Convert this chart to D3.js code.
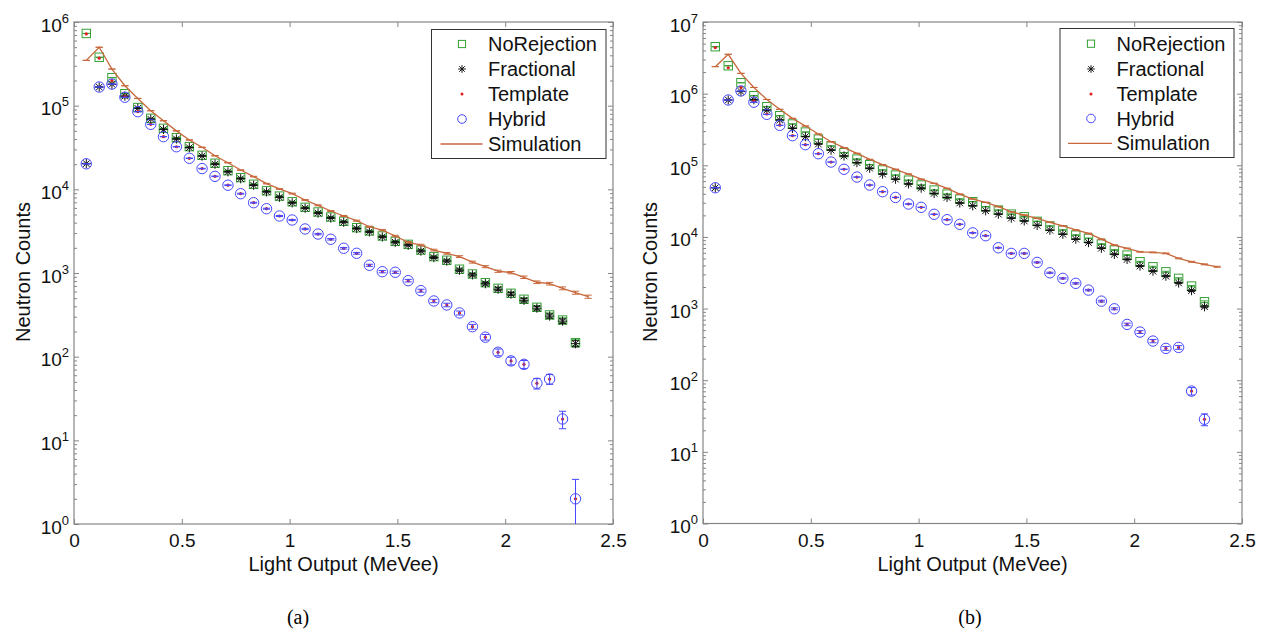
<!DOCTYPE html>
<html>
<head>
<meta charset="utf-8">
<script src="https://cdn.jsdelivr.net/npm/d3@7"></script>
<style>
  html, body { margin: 0; padding: 0; background: #ffffff; }
  svg { display: block; font-family: "Liberation Sans", Arial, Helvetica, sans-serif; }
</style>
</head>
<body>
<svg id="chart" width="1265" height="636"></svg>
<script>
// Light-output bin centres (MeVee); the simulation carries one extra bin at the end
const lightOutput = [0.057, 0.117, 0.176, 0.236, 0.296, 0.356, 0.415, 0.475, 0.535, 0.594,
  0.654, 0.714, 0.773, 0.833, 0.893, 0.953, 1.012, 1.072, 1.132, 1.191,
  1.251, 1.311, 1.370, 1.430, 1.490, 1.550, 1.609, 1.669, 1.729, 1.788,
  1.848, 1.908, 1.967, 2.027, 2.087, 2.147, 2.206, 2.266, 2.326, 2.385];

const xTickValues = [0, 0.5, 1, 1.5, 2, 2.5];
const xTickLabels = ["0", "0.5", "1", "1.5", "2", "2.5"];
const yExponentsA = [0, 1, 2, 3, 4, 5, 6];
const yExponentsB = [0, 1, 2, 3, 4, 5, 6, 7];
const legendLabels = ["NoRejection", "Fractional", "Template", "Hybrid", "Simulation"];
const panelCaptions = ["(a)", "(b)"];
const xAxisTitle = "Light Output (MeVee)";
const yAxisTitle = "Neutron Counts";

// ---- panel (a) neutron counts per bin ----
const noRejectionA = [7.3e5, 3.79e5, 2.16e5, 1.39e5, 9.5e4, 7.06e4, 5.36e4, 4.14e4, 3.24e4, 2.55e4,
  2.05e4, 1.67e4, 1.38e4, 1.15e4, 9600, 8300, 7100, 6100, 5360, 4670,
  4150, 3480, 3180, 2770, 2390, 2200, 1880, 1570, 1420, 1110,
  973, 766, 656, 572, 485, 389, 315, 274, 147];
const fractionalA = [2.03e4, 1.67e5, 1.8e5, 1.3e5, 9.3e4, 6.9e4, 5.2e4, 4.0e4, 3.15e4, 2.5e4,
  2.0e4, 1.62e4, 1.34e4, 1.12e4, 9350, 8050, 6900, 5950, 5200, 4550,
  4050, 3400, 3100, 2700, 2330, 2150, 1830, 1530, 1390, 1080,
  950, 745, 640, 560, 472, 380, 306, 266, 143];
const templateA = [7.2e5, 3.7e5, 2.0e5, 1.28e5, 8.5e4, 5.98e4, 4.26e4, 3.23e4, 2.35e4, 1.77e4,
  1.43e4, 1.12e4, 8870, 6920, 5870, 4800, 4300, 3360, 2920, 2530,
  1975, 1720, 1237, 1037, 1021, 810, 615, 463, 415, 333,
  228, 171, 113, 89, 81, 48, 54, 18, 2];
const hybridA = [2.02e4, 1.67e5, 1.81e5, 1.26e5, 8.47e4, 5.98e4, 4.26e4, 3.23e4, 2.35e4, 1.77e4,
  1.43e4, 1.12e4, 8870, 6920, 5870, 4800, 4300, 3360, 2920, 2530,
  1975, 1720, 1237, 1037, 1021, 810, 615, 463, 415, 333,
  228, 171, 113, 89, 81, 48, 54, 18, 2];
const simulationA = [3.48e5, 4.99e5, 2.74e5, 1.73e5, 1.22e5, 8.7e4, 6.6e4, 5.0e4, 3.89e4, 3.18e4,
  2.52e4, 2.08e4, 1.70e4, 1.42e4, 1.17e4, 1.01e4, 8900, 7460, 6440, 5510,
  4800, 4220, 3570, 3260, 2770, 2330, 2160, 1880, 1720, 1570,
  1350, 1190, 1050, 1010, 889, 775, 745, 656, 582, 521];

// ---- panel (b) neutron counts per bin ----
const noRejectionB = [4.52e6, 2.45e6, 1.42e6, 9.36e5, 6.57e5, 4.92e5, 3.77e5, 2.91e5, 2.32e5, 1.86e5,
  1.50e5, 1.22e5, 1.02e5, 8.6e4, 7.3e4, 6.2e4, 5.3e4, 4.51e4, 3.96e4, 3.38e4,
  3.10e4, 2.64e4, 2.37e4, 2.08e4, 1.91e4, 1.65e4, 1.42e4, 1.25e4, 1.06e4, 9550,
  7950, 6560, 5580, 4500, 3830, 3260, 2640, 2060, 1245];
const fractionalB = [4.86e4, 8.15e5, 1.07e6, 8.2e5, 5.9e5, 4.28e5, 3.28e5, 2.51e5, 1.98e5, 1.63e5,
  1.35e5, 1.09e5, 9.1e4, 7.55e4, 6.4e4, 5.5e4, 4.8e4, 4.05e4, 3.56e4, 2.98e4,
  2.72e4, 2.32e4, 2.08e4, 1.83e4, 1.67e4, 1.45e4, 1.24e4, 1.09e4, 9300, 8350,
  6950, 5720, 4850, 3920, 3330, 2830, 2280, 1780, 1060];
const templateB = [4.4e6, 2.3e6, 1.22e6, 7.9e5, 5.2e5, 3.63e5, 2.6e5, 1.94e5, 1.45e5, 1.11e5,
  8.8e4, 6.85e4, 5.3e4, 4.28e4, 3.56e4, 2.88e4, 2.59e4, 2.07e4, 1.74e4, 1.50e4,
  1.14e4, 1.04e4, 7060, 5890, 5890, 4410, 3160, 2640, 2250, 1810,
  1270, 993, 601, 470, 352, 278, 287, 70.5, 28.5];
const hybridB = [4.86e4, 8.15e5, 1.09e6, 7.6e5, 5.14e5, 3.61e5, 2.59e5, 1.94e5, 1.45e5, 1.11e5,
  8.8e4, 6.85e4, 5.3e4, 4.28e4, 3.56e4, 2.88e4, 2.59e4, 2.07e4, 1.74e4, 1.50e4,
  1.14e4, 1.04e4, 7060, 5890, 5890, 4410, 3160, 2640, 2250, 1810,
  1270, 993, 601, 470, 352, 278, 287, 70.5, 28.5];
const simulationB = [2.38e6, 3.54e6, 1.92e6, 1.22e6, 8.3e5, 6.04e5, 4.52e5, 3.53e5, 2.73e5, 2.13e5,
  1.76e5, 1.47e5, 1.21e5, 1.02e5, 8.8e4, 7.55e4, 6.4e4, 5.6e4, 4.77e4, 3.96e4,
  3.38e4, 3.04e4, 2.64e4, 2.24e4, 2.02e4, 1.82e4, 1.60e4, 1.43e4, 1.25e4, 1.12e4,
  9330, 7700, 6920, 6200, 6080, 5890, 5020, 4500, 4140, 3830];

// ---- styling ----
const COLORS = {
  noRejection: "#34a034",
  fractional: "#111111",
  template: "#e01e1e",
  hybrid: "#4646ff",
  simulation: "#c8683c",
  axis: "#858585",
  text: "#111111"
};
const TICK_FONT = 19;
const LABEL_FONT = 20;
const CAP = 3.6;

const svg = d3.select("#chart");

const starPath = s => `M${-s},0H${s}M0,${-s}V${s}M${-s * 0.72},${-s * 0.72}L${s * 0.72},${s * 0.72}M${-s * 0.72},${s * 0.72}L${s * 0.72},${-s * 0.72}`;

function drawMarker(sel, kind, size) {
  if (kind === "square") {
    sel.append("rect").attr("x", -size).attr("y", -size).attr("width", 2 * size).attr("height", 2 * size)
      .attr("fill", "none").attr("stroke", COLORS.noRejection).attr("stroke-width", 1);
  } else if (kind === "star") {
    sel.append("path").attr("d", starPath(size)).attr("fill", "none")
      .attr("stroke", COLORS.fractional).attr("stroke-width", 1);
  } else if (kind === "dot") {
    sel.append("circle").attr("r", size).attr("fill", COLORS.template);
  } else if (kind === "circle") {
    sel.append("circle").attr("r", size).attr("fill", "none")
      .attr("stroke", COLORS.hybrid).attr("stroke-width", 1);
  }
}

function drawPanel(p) {
  const x = d3.scaleLinear().domain([0, 2.5]).range([p.left, p.right]);
  const y = d3.scaleLog().domain([1, Math.pow(10, p.exps[p.exps.length - 1])]).range([p.bottom, p.top]);
  const g = svg.append("g").attr("class", "panel-" + p.id);

  const clipId = "plot-clip-" + p.id;
  svg.append("clipPath").attr("id", clipId).append("rect")
    .attr("x", p.left).attr("y", p.top)
    .attr("width", p.right - p.left).attr("height", p.bottom - p.top);

  // log minor tick values
  const minor = [];
  for (let e = p.exps[0]; e < p.exps[p.exps.length - 1]; e++) {
    for (let m = 2; m <= 9; m++) minor.push(m * Math.pow(10, e));
  }
  const majors = p.exps.map(e => Math.pow(10, e));

  const axes = g.append("g").attr("class", "axes");
  axes.append("g").attr("transform", `translate(0,${p.bottom})`)
    .call(d3.axisBottom(x).tickValues(xTickValues).tickSizeInner(-5).tickSizeOuter(0).tickPadding(10)
      .tickFormat((d, i) => xTickLabels[i]));
  axes.append("g").attr("transform", `translate(0,${p.top})`)
    .call(d3.axisTop(x).tickValues(xTickValues).tickSizeInner(-5).tickSizeOuter(0).tickFormat(() => ""));
  axes.append("g").attr("transform", `translate(${p.left},0)`)
    .call(d3.axisLeft(y).tickValues(majors).tickSizeInner(-5).tickSizeOuter(0).tickFormat(() => ""));
  axes.append("g").attr("transform", `translate(${p.left},0)`)
    .call(d3.axisLeft(y).tickValues(minor).tickSizeInner(-3).tickSizeOuter(0).tickFormat(() => ""));
  axes.append("g").attr("transform", `translate(${p.right},0)`)
    .call(d3.axisRight(y).tickValues(majors).tickSizeInner(-5).tickSizeOuter(0).tickFormat(() => ""));
  axes.append("g").attr("transform", `translate(${p.right},0)`)
    .call(d3.axisRight(y).tickValues(minor).tickSizeInner(-3).tickSizeOuter(0).tickFormat(() => ""));

  axes.selectAll(".domain").remove();
  axes.selectAll(".tick line").attr("stroke", COLORS.axis).attr("stroke-width", 1);
  axes.selectAll(".tick text").attr("fill", COLORS.text).attr("font-size", TICK_FONT)
    .attr("font-family", "'Liberation Sans', Arial, sans-serif");

  // frame
  g.append("rect").attr("x", p.left).attr("y", p.top)
    .attr("width", p.right - p.left).attr("height", p.bottom - p.top)
    .attr("fill", "none").attr("stroke", COLORS.axis).attr("stroke-width", 1.2);

  // y tick labels as powers of ten
  const yLab = g.append("g").attr("class", "y-labels");
  p.exps.forEach(e => {
    const t = yLab.append("text")
      .attr("x", p.left - 5).attr("y", y(Math.pow(10, e)) + 9.5)
      .attr("text-anchor", "end").attr("fill", COLORS.text).attr("font-size", TICK_FONT);
    t.append("tspan").text("10");
    t.append("tspan").attr("font-size", 13).attr("dy", -9).text(String(e));
  });

  // axis titles
  g.append("text").attr("x", (p.left + p.right) / 2).attr("y", 571)
    .attr("text-anchor", "middle").attr("font-size", LABEL_FONT).attr("fill", COLORS.text)
    .text(xAxisTitle);
  g.append("text").attr("transform", `translate(${p.yTitleX},272) rotate(-90)`)
    .attr("text-anchor", "middle").attr("font-size", LABEL_FONT).attr("fill", COLORS.text)
    .text(yAxisTitle);

  // caption below the panel
  g.append("text").attr("x", p.captionX).attr("y", 624)
    .attr("text-anchor", "middle").attr("font-size", 20).attr("fill", "#000")
    .attr("font-family", "'Liberation Serif', 'Times New Roman', serif")
    .text(p.caption);

  const plot = g.append("g").attr("clip-path", `url(#${clipId})`);

  // Poisson error bars with caps
  function errorBars(values, color) {
    const eb = plot.append("g").attr("stroke", color).attr("stroke-width", 1).attr("fill", "none");
    values.forEach((v, i) => {
      const e = Math.sqrt(v);
      const cx = x(lightOutput[i]);
      const yHi = y(v + e);
      const yLo = v - e > 1e-3 ? y(v - e) : p.bottom + 50;
      eb.append("line").attr("x1", cx).attr("x2", cx).attr("y1", yHi).attr("y2", yLo);
      eb.append("line").attr("x1", cx - CAP).attr("x2", cx + CAP).attr("y1", yHi).attr("y2", yHi);
      eb.append("line").attr("x1", cx - CAP).attr("x2", cx + CAP).attr("y1", yLo).attr("y2", yLo);
    });
  }

  function markers(values, kind, size) {
    const mg = plot.append("g");
    values.forEach((v, i) => {
      const m = mg.append("g").attr("transform", `translate(${x(lightOutput[i])},${y(v)})`);
      drawMarker(m, kind, size);
    });
  }

  errorBars(p.noRejection, COLORS.noRejection);
  markers(p.noRejection, "square", 4.2);
  errorBars(p.fractional, COLORS.fractional);
  markers(p.fractional, "star", 4.6);
  markers(p.template, "dot", 1.6);
  errorBars(p.hybrid, COLORS.hybrid);
  markers(p.hybrid, "circle", 5.2);

  // simulation: connected line with error caps
  const line = d3.line().x((d, i) => x(lightOutput[i])).y(d => y(d));
  plot.append("path").datum(p.simulation).attr("d", line)
    .attr("fill", "none").attr("stroke", COLORS.simulation).attr("stroke-width", 1.3);
  errorBars(p.simulation, COLORS.simulation);

  // legend
  const L = p.legend;
  const lg = g.append("g").attr("class", "legend");
  lg.append("rect").attr("x", L.x0).attr("y", L.y0).attr("width", L.x1 - L.x0).attr("height", L.y1 - L.y0)
    .attr("fill", "#ffffff").attr("stroke", "#333333").attr("stroke-width", 1);
  const kinds = ["square", "star", "dot", "circle", "line"];
  const sizes = [3.6, 3.8, 1.5, 4.3, 0];
  legendLabels.forEach((label, i) => {
    const cy = L.rows[i];
    if (kinds[i] === "line") {
      lg.append("line").attr("x1", L.lineX0).attr("x2", L.lineX1).attr("y1", cy).attr("y2", cy)
        .attr("stroke", COLORS.simulation).attr("stroke-width", 1.3);
    } else {
      const m = lg.append("g").attr("transform", `translate(${L.markerX},${cy})`);
      drawMarker(m, kinds[i], sizes[i]);
    }
    lg.append("text").attr("x", L.textX).attr("y", cy + 7)
      .attr("font-size", LABEL_FONT).attr("fill", COLORS.text).text(label);
  });
}

drawPanel({
  id: "a", caption: panelCaptions[0], captionX: 298,
  left: 74, right: 613, top: 22, bottom: 524, exps: yExponentsA, yTitleX: 30,
  noRejection: noRejectionA, fractional: fractionalA, template: templateA,
  hybrid: hybridA, simulation: simulationA,
  legend: { x0: 431.5, x1: 606, y0: 29.5, y1: 158.5, markerX: 462, textX: 488,
    lineX0: 440.5, lineX1: 482.5, rows: [44, 69, 94, 119, 144] }
});

drawPanel({
  id: "b", caption: panelCaptions[1], captionX: 970,
  left: 703, right: 1242, top: 22, bottom: 523.5, exps: yExponentsB, yTitleX: 657,
  noRejection: noRejectionB, fractional: fractionalB, template: templateB,
  hybrid: hybridB, simulation: simulationB,
  legend: { x0: 1060, x1: 1234, y0: 28.5, y1: 157.5, markerX: 1091, textX: 1116.5,
    lineX0: 1068, lineX1: 1112, rows: [43.7, 69, 94, 118.5, 143.3] }
});
</script>
</body>
</html>
